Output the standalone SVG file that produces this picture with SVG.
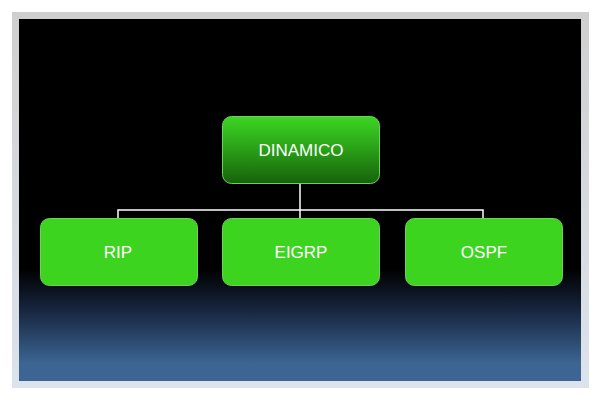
<svg xmlns="http://www.w3.org/2000/svg" width="600" height="400" viewBox="0 0 600 400">
<defs>
<linearGradient id="frame" x1="0" y1="0" x2="0" y2="1">
<stop offset="0" stop-color="#cfcfcf"/>
<stop offset="1" stop-color="#dde3ec"/>
</linearGradient>
<linearGradient id="bg" x1="0" y1="19" x2="0" y2="381" gradientUnits="userSpaceOnUse">
<stop offset="0" stop-color="#000000"/>
<stop offset="0.69" stop-color="#000000"/>
<stop offset="0.8" stop-color="#16243c"/>
<stop offset="0.95" stop-color="#3c6592"/>
<stop offset="1" stop-color="#3c6594"/>
</linearGradient>
<linearGradient id="top" x1="0" y1="0" x2="0" y2="1">
<stop offset="0" stop-color="#3dd622"/>
<stop offset="0.45" stop-color="#2ba418"/>
<stop offset="1" stop-color="#17620c"/>
</linearGradient>
<style>
.box{stroke:#6fcf5f;stroke-width:1}
.leaf{fill:#3dd420}
.lbl{font-family:"Liberation Sans",Arial,sans-serif;font-size:17px;fill:#ffffff;text-anchor:middle;dominant-baseline:central}
.conn{stroke:#ffffff;stroke-width:1.5;fill:none}
</style>
</defs>
<rect x="12" y="12" width="577" height="376" fill="url(#frame)"/>
<rect x="19" y="19" width="562" height="362" fill="url(#bg)"/>
<g id="connectors">
<path class="conn" d="M300,183 V210 M118,218 V210 H483 V218 M300,210 V218"/>
</g>
<g id="node-dinamico">
<rect class="box" x="222.5" y="116.5" width="157" height="67" rx="9" fill="url(#top)"/>
<text class="lbl" x="301" y="150">DINAMICO</text>
</g>
<g id="node-rip">
<rect class="box leaf" x="40.5" y="218.5" width="157" height="67" rx="9"/>
<text class="lbl" x="118" y="252">RIP</text>
</g>
<g id="node-eigrp">
<rect class="box leaf" x="222.5" y="218.5" width="157" height="67" rx="9"/>
<text class="lbl" x="301" y="252">EIGRP</text>
</g>
<g id="node-ospf">
<rect class="box leaf" x="405.5" y="218.5" width="157" height="67" rx="9"/>
<text class="lbl" x="484" y="252">OSPF</text>
</g>
</svg>
